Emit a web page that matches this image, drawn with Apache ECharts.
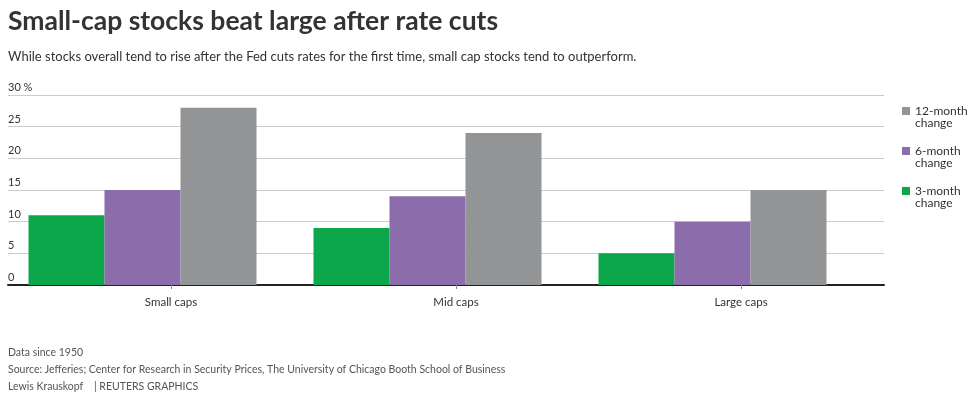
<!DOCTYPE html>
<html>
<head>
<meta charset="UTF-8">
<title>Small-cap stocks beat large after rate cuts</title>
<script src="https://cdn.jsdelivr.net/npm/echarts@6/dist/echarts.min.js"></script>
<style>
body { margin: 0; padding: 0; background: #fff; }
#main { width: 975px; height: 396px; }
</style>
</head>
<body>
<div id="main"></div>
<script>
// data
var categories = ['Small caps', 'Mid caps', 'Large caps'];
var threeMonth = [11, 9, 5];
var sixMonth = [15, 14, 10];
var twelveMonth = [28, 24, 15];
var yTicks = [0, 5, 10, 15, 20, 25, 30];

var FONT = 'Lato, "Noto Sans", sans-serif';
var chart = echarts.init(document.getElementById('main'));

var option = {
    animation: false,
    textStyle: { fontFamily: FONT },
    title: [{
        left: 8, top: 8, padding: 0,
        text: 'Small-cap stocks beat large after rate cuts',
        subtext: 'While stocks overall tend to rise after the Fed cuts rates for the first time, small cap stocks tend to outperform.',
        itemGap: 15,
        textStyle: { fontFamily: FONT, fontSize: 26.5, fontWeight: 'bold', color: '#333' },
        subtextStyle: { fontFamily: FONT, fontSize: 13, color: '#333' }
    }, {
        left: 8, top: 344, padding: 0,
        text: 'Data since 1950\nSource: Jefferies; Center for Research in Security Prices, The University of Chicago Booth School of Business\nLewis Krauskopf    | REUTERS GRAPHICS',
        textStyle: { fontFamily: FONT, fontSize: 10.5, fontWeight: 'normal', color: '#555', lineHeight: 17 }
    }],
    legend: {
        orient: 'vertical',
        left: 902, top: 93, padding: 0,
        itemWidth: 8, itemHeight: 8, itemGap: 4,
        icon: 'rect',
        data: ['12-month', '6-month', '3-month'],
        // leading blank line keeps the square level with the first line
        formatter: function (n) { return ' \n' + n + '\nchange'; },
        textStyle: { fontFamily: FONT, fontSize: 12, color: '#333', lineHeight: 12 }
    },
    grid: [
        { left: 8, right: 91, top: 95, bottom: 111 },
        { left: 28.5, right: 91.5, top: 95, bottom: 111 }
    ],
    xAxis: [{
        gridIndex: 0, type: 'category', data: categories,
        axisLine: { lineStyle: { color: '#222', width: 2 } },
        axisTick: { show: false }, axisLabel: { show: false }
    }, {
        gridIndex: 1, type: 'category', data: categories,
        axisLine: { show: false },
        axisTick: { show: true, alignWithLabel: true, length: 4, lineStyle: { color: '#888' } },
        axisLabel: { fontFamily: FONT, fontSize: 11.5, color: '#333', margin: 11 }
    }],
    yAxis: [{
        gridIndex: 0, type: 'value', min: yTicks[0], max: yTicks[yTicks.length - 1], interval: 5,
        axisLine: { show: false }, axisTick: { show: false },
        splitLine: { lineStyle: { color: '#ccc', width: 1 } },
        axisLabel: {
            inside: true, margin: 0, verticalAlign: 'bottom', padding: [0, 0, 2, 0],
            fontFamily: FONT, fontSize: 11, color: '#333',
            formatter: function (v) { return v === 30 ? '30 %' : v; }
        }
    }, {
        gridIndex: 1, type: 'value', min: 0, max: 30, interval: 5, show: false
    }],
    series: [{
        name: '3-month', type: 'bar', xAxisIndex: 1, yAxisIndex: 1,
        barWidth: 76, barGap: '0%', data: threeMonth,
        itemStyle: { color: '#0ca64b' }
    }, {
        name: '6-month', type: 'bar', xAxisIndex: 1, yAxisIndex: 1,
        barWidth: 76, barGap: '0%', data: sixMonth,
        itemStyle: { color: '#8c6dac' }
    }, {
        name: '12-month', type: 'bar', xAxisIndex: 1, yAxisIndex: 1,
        barWidth: 76, barGap: '0%', data: twelveMonth,
        itemStyle: { color: '#939496' }
    }, {
        // empty spacer so each group sits at the left of its band
        name: 'spacer', type: 'bar', xAxisIndex: 1, yAxisIndex: 1,
        barWidth: 57, barGap: '0%', data: ['-', '-', '-'], silent: true
    }]
};
chart.setOption(option);
</script>
</body>
</html>
